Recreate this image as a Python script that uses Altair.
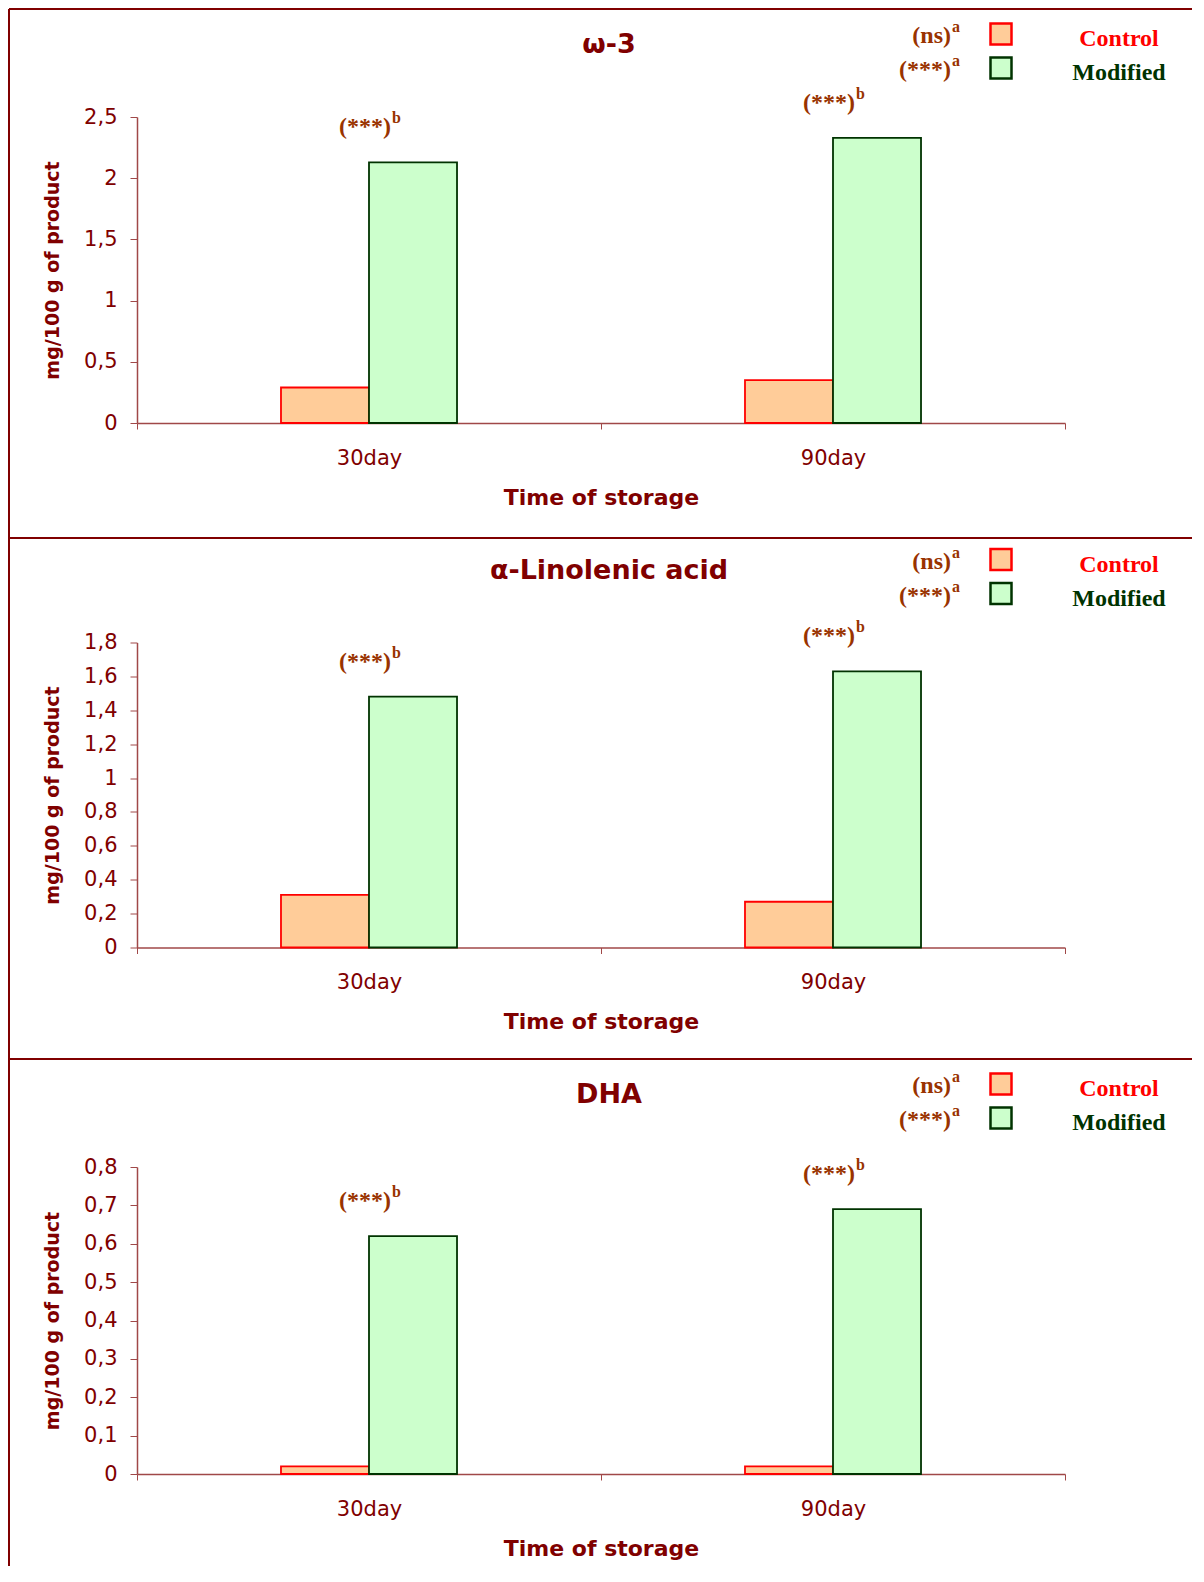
import altair as alt
import pandas as pd

# ---------------- data ----------------
times = ["30day", "90day"]
groups = ["Control", "Modified"]
panel_titles = ["ω-3", "α-Linolenic acid", "DHA"]
control_vals = [[0.29, 0.35], [0.31, 0.27], [0.02, 0.02]]
modified_vals = [[2.13, 2.33], [1.48, 1.63], [0.62, 0.69]]
y_max = [2.5, 1.8, 0.8]
y_ticks = [
    [0, 0.5, 1, 1.5, 2, 2.5],
    [0, 0.2, 0.4, 0.6, 0.8, 1, 1.2, 1.4, 1.6, 1.8],
    [0, 0.1, 0.2, 0.3, 0.4, 0.5, 0.6, 0.7, 0.8],
]
legend_sig = ["(ns)", "(***)"]
legend_sup = ["a", "a"]
bar_sig = "(***)"
bar_sup = "b"
x_title = "Time of storage"
y_title = "mg/100 g of product"

# ---------------- style ----------------
fills = ["#ffcc99", "#ccffcc"]
strokes = ["#ff0000", "#003300"]
label_colors = ["#ff0000", "#003300"]
MAROON = "#800000"
AXIS_LINE = "#a04848"
SIG = "#993300"
SANS = "DejaVu Sans"
SERIF = "Liberation Serif"
W = 928
heights = [306, 305, 307]

fill_scale = alt.Scale(domain=groups, range=fills)
stroke_scale = alt.Scale(domain=groups, range=strokes)
# empty slots on both sides of the bar pair keep the bars narrow inside each band
offset_domain = ["_left_gap"] + groups + ["_right_gap"]


def panel(i, frame_top, frame_bottom):
    df = pd.DataFrame({
        "time": times * 2,
        "group": [groups[0]] * 2 + [groups[1]] * 2,
        "value": control_vals[i] + modified_vals[i],
    })
    x = alt.X(
        "time:N", sort=times,
        scale=alt.Scale(paddingInner=0, paddingOuter=0),
        axis=alt.Axis(
            title=x_title, tickBand="extent", labelAngle=0,
            labelFont=SANS, labelFontSize=21, labelColor=MAROON, labelPadding=18,
            tickSize=6, tickColor=AXIS_LINE, domainColor=AXIS_LINE, domainWidth=1.5,
            titleFont=SANS, titleFontSize=22, titleFontWeight="bold", titleColor=MAROON,
            titleY=81, titleBaseline="alphabetic",
        ),
    )
    y = alt.Y(
        "value:Q",
        scale=alt.Scale(domain=[0, y_max[i]], nice=False, zero=True),
        axis=alt.Axis(
            title=y_title, values=y_ticks[i], grid=False,
            labelExpr="replace(format(datum.value, '.2~f'), '.', ',')",
            labelFont=SANS, labelFontSize=21, labelColor=MAROON, labelPadding=13,
            tickSize=7, tickColor=AXIS_LINE, domainColor=AXIS_LINE, domainWidth=1.5,
            titleFont=SANS, titleFontSize=19, titleFontWeight="bold", titleColor=MAROON,
            titleX=-79, titleBaseline="alphabetic",
        ),
    )
    bars = alt.Chart(df).mark_bar(strokeWidth=1.8).encode(
        x=x,
        xOffset=alt.XOffset("group:N",
                            scale=alt.Scale(domain=offset_domain, paddingInner=0,
                                            paddingOuter=0.636)),
        y=y,
        fill=alt.Fill("group:N", scale=fill_scale, legend=None),
        stroke=alt.Stroke("group:N", scale=stroke_scale, legend=None),
    )

    ann_df = pd.DataFrame({
        "time": times,
        "value": modified_vals[i],
        "sig": [bar_sig] * 2,
        "sup": [bar_sup] * 2,
    })
    ann = alt.Chart(ann_df).mark_text(
        align="right", baseline="alphabetic", dx=22, dy=-28,
        font=SERIF, fontSize=24, fontWeight="bold", color=SIG,
    ).encode(x=x, y=y, text="sig:N")
    ann_sup = alt.Chart(ann_df).mark_text(
        align="left", baseline="alphabetic", dx=23, dy=-39,
        font=SERIF, fontSize=16, fontWeight="bold", color=SIG,
    ).encode(x=x, y=y, text="sup:N")

    title = alt.Chart(pd.DataFrame({"t": [panel_titles[i]]})).mark_text(
        align="center", baseline="alphabetic",
        font=SANS, fontSize=27, fontWeight="bold", color=MAROON,
    ).encode(x=alt.value(472), y=alt.value(-64), text="t:N")

    legend_layers = []
    for j in range(2):
        ldf = pd.DataFrame({"group": [groups[j]], "sig": [legend_sig[j]], "sup": [legend_sup[j]]})
        base = alt.Chart(ldf)
        legend_layers.append(
            base.mark_square(size=441, filled=True, strokeWidth=2.5, opacity=1).encode(
                x=alt.value(864), y=alt.value(-83 + 34 * j),
                fill=alt.Fill("group:N", scale=fill_scale, legend=None),
                stroke=alt.Stroke("group:N", scale=stroke_scale, legend=None),
            )
        )
        legend_layers.append(
            base.mark_text(align="center", baseline="alphabetic", font=SERIF, fontSize=24,
                           fontWeight="bold", color=label_colors[j]).encode(
                x=alt.value(982), y=alt.value(-71 + 34 * j), text="group:N")
        )
        legend_layers.append(
            base.mark_text(align="right", baseline="alphabetic", font=SERIF, fontSize=24,
                           fontWeight="bold", color=SIG).encode(
                x=alt.value(814), y=alt.value(-74 + 34 * j), text="sig:N")
        )
        legend_layers.append(
            base.mark_text(align="left", baseline="alphabetic", font=SERIF, fontSize=16,
                           fontWeight="bold", color=SIG).encode(
                x=alt.value(815), y=alt.value(-85 + 34 * j), text="sup:N")
        )

    frame_df = pd.DataFrame({"k": [0]})
    hrule = alt.Chart(frame_df).mark_rule(color=MAROON, strokeWidth=2).encode(
        x=alt.value(-128), x2=alt.value(1055), y=alt.value(frame_top))
    vrule = alt.Chart(frame_df).mark_rule(color=MAROON, strokeWidth=2).encode(
        x=alt.value(-128), y=alt.value(frame_top), y2=alt.value(frame_bottom))

    return alt.layer(bars, ann, ann_sup, title, *legend_layers, hrule, vrule).properties(
        width=W, height=heights[i])


chart = alt.vconcat(
    panel(0, -108, 421),
    panel(1, -104.5, 416.5),
    panel(2, -108, 399),
    spacing=219.5,
    bounds="flush",
).resolve_scale(y="independent").configure_view(stroke=None).properties(padding=0)

chart.save("out.html", embed_options={"renderer": "svg", "actions": False})
